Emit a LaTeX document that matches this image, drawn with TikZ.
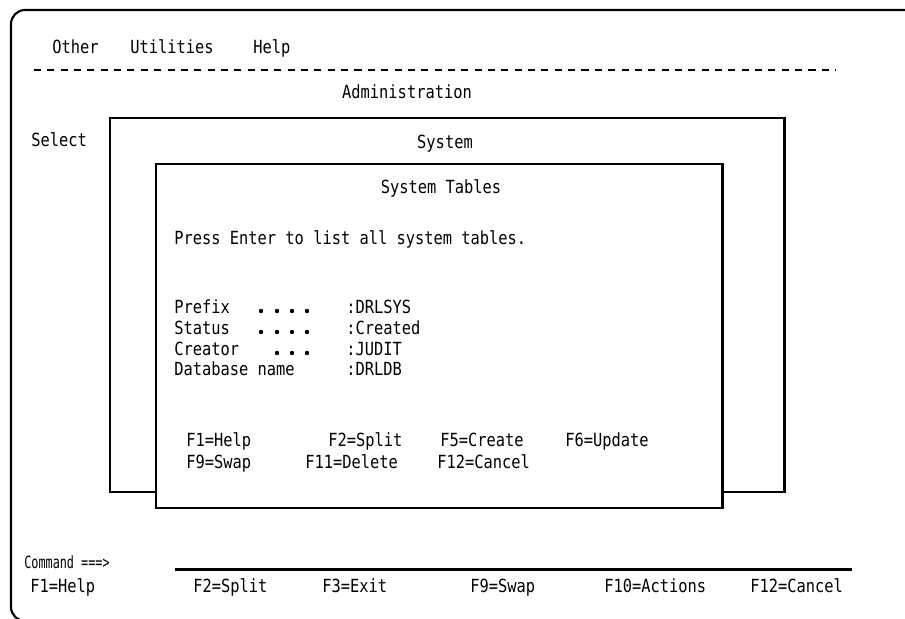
\documentclass[tikz,border=0pt]{standalone}
\usepackage{fontspec}
\setmonofont[FakeStretch=0.85]{DejaVu Sans Mono}
\newfontfamily\cmdfont[FakeStretch=0.7]{DejaVu Sans Mono}
\begin{document}
\begin{tikzpicture}[x=0.02cm,y=-0.02cm,
  txt/.style={anchor=base west,inner sep=0pt,font=\ttfamily\fontsize{10.3}{12}\selectfont},
  ctxt/.style={txt,anchor=base},
  panel/.style={line width=1.7pt},
  leader/.style={circle,fill,inner sep=0pt,minimum size=2.5pt}]
  \useasboundingbox (0,0) rectangle (905,618);
  % screen frame
  \draw[line width=1.2pt,rounded corners=8pt] (11,621) -- (11,10) -- (918,10) -- (918,621) -- cycle;
  % action bar
  \node[txt] (other) at (52,54) {Other};
  \node[txt] (util) at (130,54) {Utilities};
  \node[txt] (help) at (253,54) {Help};
  \draw[line width=1.4pt,dash pattern=on 4pt off 3.6pt] (34,70) -- (836,70);
  \node[ctxt] (admin) at (407,99) {Administration};
  \node[txt] (select) at (31,147) {Select};
  % System window
  \draw[panel] (110,118) rectangle (784,492);
  \node[ctxt] (system) at (445,149) {System};
  % System Tables window
  \draw[panel,fill=white] (156,164) rectangle (722,508);
  \node[ctxt] (title) at (441,194) {System Tables};
  \node[txt] (press) at (174,244) {Press Enter to list all system tables.};
  \node[txt] (prefix) at (174,313) {Prefix};
  \node[txt] (status) at (174,334) {Status};
  \node[txt] (creator) at (174,355) {Creator};
  \node[txt] (dbname) at (174,375) {Database name};
  \foreach \x in {261,277,292,307} {
    \node[leader] at (\x,311) {};
    \node[leader] at (\x,332) {};
  }
  \foreach \x in {277,292,307}
    \node[leader] at (\x,353) {};
  \node[txt] (prefixval) at (346,313) {:DRLSYS};
  \node[txt] (statusval) at (346,334) {:Created};
  \node[txt] (creatorval) at (346,355) {:JUDIT};
  \node[txt] (dbnameval) at (346,375) {:DRLDB};
  \node[txt] (f1) at (186,446) {F1=Help};
  \node[txt] (f2) at (328,446) {F2=Split};
  \node[txt] (f5) at (440,446) {F5=Create};
  \node[txt] (f6) at (565,446) {F6=Update};
  \node[txt] (f9) at (186,468) {F9=Swap};
  \node[txt] (f11) at (305,468) {F11=Delete};
  \node[txt] (f12) at (437,468) {F12=Cancel};
  % command line and function keys
  \node[txt,font=\cmdfont\fontsize{9.6}{11}\selectfont] (cmd) at (24,568) {Command ===>};
  \draw[line width=1.7pt] (175,569) -- (852,569);
  \node[txt] (kf1) at (30,592) {F1=Help};
  \node[txt] (kf2) at (193,592) {F2=Split};
  \node[txt] (kf3) at (322,592) {F3=Exit};
  \node[txt] (kf9) at (470,592) {F9=Swap};
  \node[txt] (kf10) at (604,592) {F10=Actions};
  \node[txt] (kf12) at (750,592) {F12=Cancel};
\end{tikzpicture}
\end{document}
